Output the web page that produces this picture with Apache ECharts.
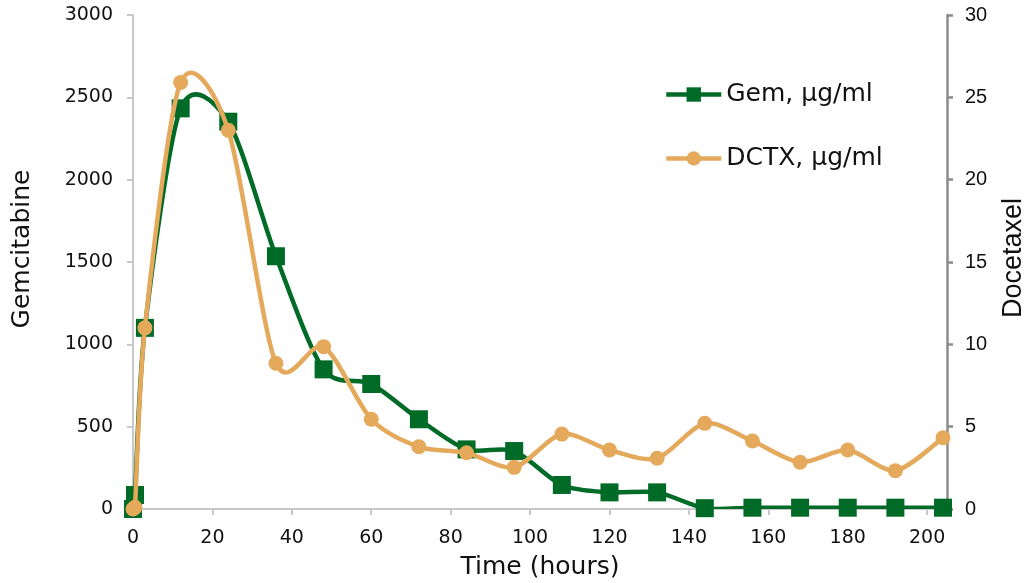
<!DOCTYPE html>
<html>
<head>
<meta charset="utf-8">
<script src="https://cdn.jsdelivr.net/npm/echarts@6/dist/echarts.min.js"></script>
<style>
html,body{margin:0;padding:0;background:#fff;}
#chart{width:1028px;height:583px;}
</style>
</head>
<body>
<div id="chart"></div>
<script>
var gemTimes = [0, 0.5, 3, 12, 24, 36, 48, 60, 72, 84, 96, 108, 120, 132, 144, 156, 168, 180, 192, 204];
var gemValues = [0, 85, 1100, 2433, 2352, 1535, 848, 759, 545, 362, 352, 146, 101, 101, 5, 8, 8, 8, 8, 8];
var dctxTimes = [0, 0.5, 3, 12, 24, 36, 48, 60, 72, 84, 96, 108, 120, 132, 144, 156, 168, 180, 192, 204];
var dctxValues = [0, 0.1, 11.0, 25.9, 23.0, 8.85, 9.86, 5.45, 3.78, 3.42, 2.53, 4.55, 3.58, 3.08, 5.2, 4.13, 2.84, 3.58, 2.33, 4.33];
var seriesNames = ['Gem, \u00b5g/ml', 'DCTX, \u00b5g/ml'];

var GEM_COLOR = '#006a27';
var DCTX_COLOR = '#e4a95b';

function pairs(xs, ys){ return xs.map(function(x,i){ return [x, ys[i]]; }); }

// Smooth curve (Catmull-Rom style Bezier, like a spreadsheet smoothed line) drawn through the axis scales
function smoothRenderer(xs, ys, color){
  return function(params, api){
    var i = params.dataIndex;
    var n = xs.length;
    if (i >= n - 1) return null;
    function P(k){ k = Math.max(0, Math.min(n - 1, k)); return api.coord([xs[k], ys[k]]); }
    var p0 = P(i - 1), p1 = P(i), p2 = P(i + 1), p3 = P(i + 2);
    var f = 0.14;
    return {
      type:'bezierCurve',
      shape:{
        x1:p1[0], y1:p1[1], x2:p2[0], y2:p2[1],
        cpx1:p1[0] + (p2[0] - p0[0]) * f, cpy1:p1[1] + (p2[1] - p0[1]) * f,
        cpx2:p2[0] - (p3[0] - p1[0]) * f, cpy2:p2[1] - (p3[1] - p1[1]) * f
      },
      style:{stroke:color, lineWidth:4.5, fill:'none', lineCap:'round'}
    };
  };
}

var mainFont = 'DejaVu Sans';
var chart = echarts.init(document.getElementById('chart'), null, {renderer:'canvas'});
chart.setOption({
  animation:false,
  backgroundColor:'#fff',
  grid:{left:133, right:81, top:15, bottom:74, containLabel:false, outerBoundsMode:'none'},
  legend:{
    orient:'vertical', left:659, top:77, itemWidth:55, itemHeight:18, itemGap:39,
    textStyle:{fontFamily:mainFont, fontSize:25, color:'#111'},
    data:[
      {name:seriesNames[0], lineStyle:{color:GEM_COLOR, width:4.5, opacity:1}},
      {name:seriesNames[1], lineStyle:{color:DCTX_COLOR, width:4.5, opacity:1}}
    ]
  },
  xAxis:{
    type:'value', min:0, max:205, interval:20,
    name:'Time (hours)', nameLocation:'middle', nameGap:46,
    nameTextStyle:{fontFamily:mainFont, fontSize:25, color:'#111'},
    axisLine:{show:true, lineStyle:{color:'#c8c8c8', width:2}},
    axisTick:{show:true, inside:false, length:6, lineStyle:{color:'#c8c8c8', width:2}},
    axisLabel:{fontFamily:mainFont, fontSize:19, color:'#111', margin:20, showMaxLabel:false},
    splitLine:{show:false}
  },
  yAxis:[{
    type:'value', min:0, max:3000, interval:500, position:'left',
    name:'Gemcitabine', nameLocation:'middle', nameGap:98, nameRotate:90,
    nameTextStyle:{fontFamily:mainFont, fontSize:25, color:'#111', padding:[0,0,0,26]},
    axisLine:{show:true, lineStyle:{color:'#c8c8c8', width:2}},
    axisTick:{show:true, length:6, lineStyle:{color:'#c8c8c8', width:2}},
    axisLabel:{fontFamily:mainFont, fontSize:19, color:'#111', margin:20, formatter:function(v){ return String(v); }},
    splitLine:{show:false}
  },{
    type:'value', min:0, max:30, interval:5, position:'right',
    name:'Docetaxel', nameLocation:'middle', nameGap:53, nameRotate:90,
    nameTextStyle:{fontFamily:'Liberation Sans', fontSize:27, color:'#111', padding:[0,0,0,8]},
    axisLine:{show:true, lineStyle:{color:'#8c8c8c', width:2.5}},
    axisTick:{show:true, length:6, lineStyle:{color:'#8c8c8c', width:2.5}},
    axisLabel:{fontFamily:'Liberation Sans', fontSize:20, color:'#111', margin:18},
    splitLine:{show:false}
  }],
  series:[{
    name:'gemCurve', type:'custom', coordinateSystem:'cartesian2d', xAxisIndex:0, yAxisIndex:0,
    data:pairs(gemTimes, gemValues), encode:{x:0, y:1}, silent:true, z:2, clip:true,
    renderItem:smoothRenderer(gemTimes, gemValues, GEM_COLOR)
  },{
    name:seriesNames[0], type:'line', yAxisIndex:0,
    data:pairs(gemTimes, gemValues),
    symbol:'rect', symbolSize:18,
    lineStyle:{color:GEM_COLOR, width:4.5, opacity:0},
    itemStyle:{color:GEM_COLOR},
    z:3
  },{
    name:'dctxCurve', type:'custom', coordinateSystem:'cartesian2d', xAxisIndex:0, yAxisIndex:1,
    data:pairs(dctxTimes, dctxValues), encode:{x:0, y:1}, silent:true, z:4, clip:true,
    renderItem:smoothRenderer(dctxTimes, dctxValues, DCTX_COLOR)
  },{
    name:seriesNames[1], type:'line', yAxisIndex:1,
    data:pairs(dctxTimes, dctxValues),
    symbol:'circle', symbolSize:15,
    lineStyle:{color:DCTX_COLOR, width:4.5, opacity:0},
    itemStyle:{color:DCTX_COLOR},
    z:5
  }]
});
</script>
</body>
</html>
